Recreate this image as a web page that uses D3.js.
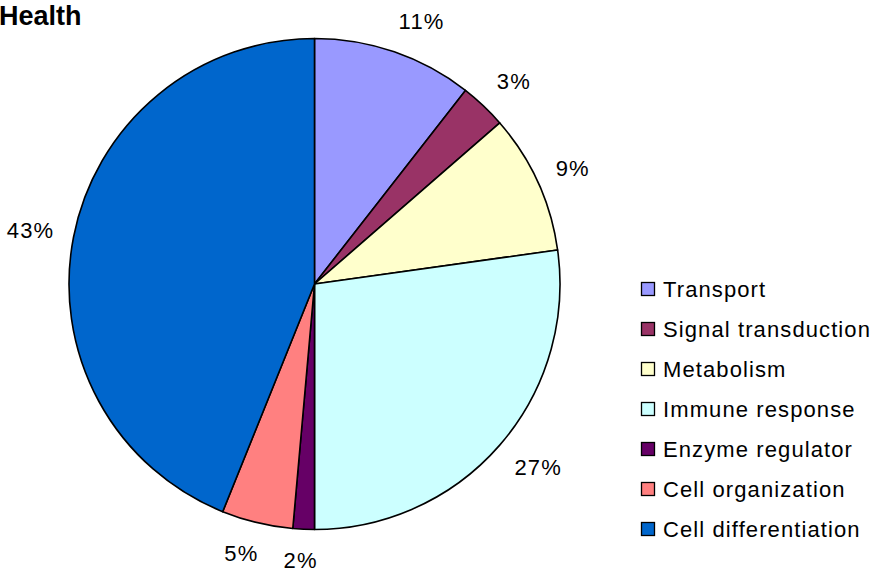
<!DOCTYPE html>
<html><head><meta charset="utf-8">
<script src="https://cdn.jsdelivr.net/npm/d3@7"></script>
<style>body{margin:0;background:#fff;} svg{display:block;}</style>
</head><body>
<svg id="chart" width="878" height="575"></svg>
<script>
const title = "Health";
const categories = ["Transport","Signal transduction","Metabolism","Immune response","Enzyme regulator","Cell organization","Cell differentiation"];
const values = [10.54, 3.07, 9.18, 27.21, 1.41, 4.69, 43.9];
const percentLabels = ["11%","3%","9%","27%","2%","5%","43%"];
const colors = ["#9999FF","#993366","#FFFFCC","#CCFFFF","#660066","#FF8080","#0066CC"];

const svg = d3.select("#chart");
const font = "Liberation Sans, Arial, sans-serif";
const cx = 314.5, cy = 284, r = 245.5;

const pie = d3.pie().sort(null).value(d => d)(values);
const arc = d3.arc().innerRadius(0).outerRadius(r);
const anchorR = 265;

const g = svg.append("g").attr("transform", `translate(${cx},${cy})`);
g.selectAll("path").data(pie).join("path")
  .attr("d", arc)
  .attr("fill", (d,i) => colors[i])
  .attr("stroke", "#000").attr("stroke-width", 1.6).attr("stroke-linejoin","round");

const labels = g.selectAll("text.lbl").data(pie).join("text").attr("class","lbl")
  .attr("text-anchor","middle").attr("dominant-baseline","central")
  .attr("font-family", font).attr("font-size", 22).attr("letter-spacing", 1.2).attr("fill","#000")
  .text((d,i) => percentLabels[i]);
labels.each(function(d) {
  const a = (d.startAngle + d.endAngle) / 2;
  const s = Math.sin(a), c = Math.cos(a);
  const w = this.getComputedTextLength(), h = 24;
  const dx = (w/2) * Math.max(-1, Math.min(1, s*2.8));
  const dy = -(h/2) * Math.max(-1, Math.min(1, c*1.2));
  const px = s * anchorR, py = -c * anchorR;
  d3.select(this).attr("transform", `translate(${px+dx},${py+dy})`);
});

svg.append("text").attr("x", -1).attr("y", 25)
  .attr("font-family", font).attr("font-size", 27).attr("font-weight","bold")
  .text(title);

const legend = svg.append("g").attr("transform","translate(641,289)");
const rows = legend.selectAll("g").data(categories).join("g")
  .attr("transform", (d,i) => `translate(0,${i*40})`);
rows.append("rect").attr("x",0.5).attr("y",-6.5).attr("width",13).attr("height",13)
  .attr("fill",(d,i)=>colors[i]).attr("stroke","#000").attr("stroke-width",1.3);
rows.append("text").attr("x",22).attr("y",0).attr("dominant-baseline","central")
  .attr("font-family", font).attr("font-size", 22).attr("letter-spacing", 1.1).text(d => d);
</script>
</body></html>
